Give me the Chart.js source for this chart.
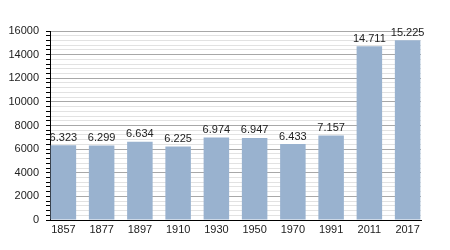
<!DOCTYPE html>
<html>
<head>
<meta charset="utf-8">
<script src="https://cdn.jsdelivr.net/npm/chart.js@4/dist/chart.umd.min.js"></script>
<style>
html,body{margin:0;padding:0;background:#fff;}
#wrap{width:450px;height:250px;}
</style>
</head>
<body>
<div id="wrap"><canvas id="c" width="450" height="250"></canvas></div>
<script>
const years = ['1857','1877','1897','1910','1930','1950','1970','1991','2011','2017'];
const population = [6323, 6299, 6634, 6225, 6974, 6947, 6433, 7157, 14711, 15225];
const yMajorTicks = [0, 2000, 4000, 6000, 8000, 10000, 12000, 14000, 16000];

const fmt = v => String(v).replace(/\B(?=(\d{3})+(?!\d))/g, '.');

const labelPlugin = {
  id: 'barLabels',
  afterDatasetsDraw(chart) {
    const ctx = chart.ctx;
    const meta = chart.getDatasetMeta(0);
    ctx.save();
    ctx.font = '11px "Liberation Sans", Arial, sans-serif';
    ctx.fillStyle = '#222';
    ctx.textAlign = 'center';
    ctx.textBaseline = 'bottom';
    meta.data.forEach((el, i) => {
      ctx.fillText(fmt(population[i]), el.x, el.y - 2);
    });
    ctx.restore();
  }
};

new Chart(document.getElementById('c'), {
  type: 'bar',
  data: {
    datasets: [{
      data: population.map((v, i) => ({x: i, y: v})),
      backgroundColor: '#99b2cf',
      borderWidth: 0,
      categoryPercentage: 1,
      barPercentage: 0.667
    }]
  },
  options: {
    responsive: false,
    animation: false,
    devicePixelRatio: 1,
    layout: {padding: {left: 0, right: 29, top: 31, bottom: 0}},
    plugins: {legend: {display: false}, tooltip: {enabled: false}},
    scales: {
      x: {
        type: 'linear',
        offset: false,
        min: -0.35,
        max: 9.35,
        afterBuildTicks: s => { s.ticks = years.map((_, i) => ({value: i})); },
        afterFit: s => { s.height = 30; },
        grid: {display: false, drawTicks: false},
        border: {display: true, color: '#000', width: 1},
        ticks: {
          autoSkip: false,
          maxRotation: 0,
          padding: 3,
          color: '#222',
          font: {family: '"Liberation Sans", Arial, sans-serif', size: 11},
          callback: v => years[v] ?? ''
        }
      },
      y: {
        min: 0,
        max: 16000,
        afterFit: s => { s.width = 50; },
        border: {display: true, color: '#000', width: 1},
        grid: {
          color: c => (c.tick && yMajorTicks.includes(c.tick.value)) ? '#a8a8a8' : '#e2e2e2',
          tickColor: '#000',
          tickLength: 4,
          lineWidth: 1
        },
        ticks: {
          stepSize: 400,
          maxTicksLimit: 100,
          autoSkip: false,
          padding: 7,
          color: '#222',
          font: {family: '"Liberation Sans", Arial, sans-serif', size: 11},
          callback: v => yMajorTicks.includes(v) ? String(v) : ''
        }
      }
    }
  },
  plugins: [labelPlugin]
});
</script>
</body>
</html>
